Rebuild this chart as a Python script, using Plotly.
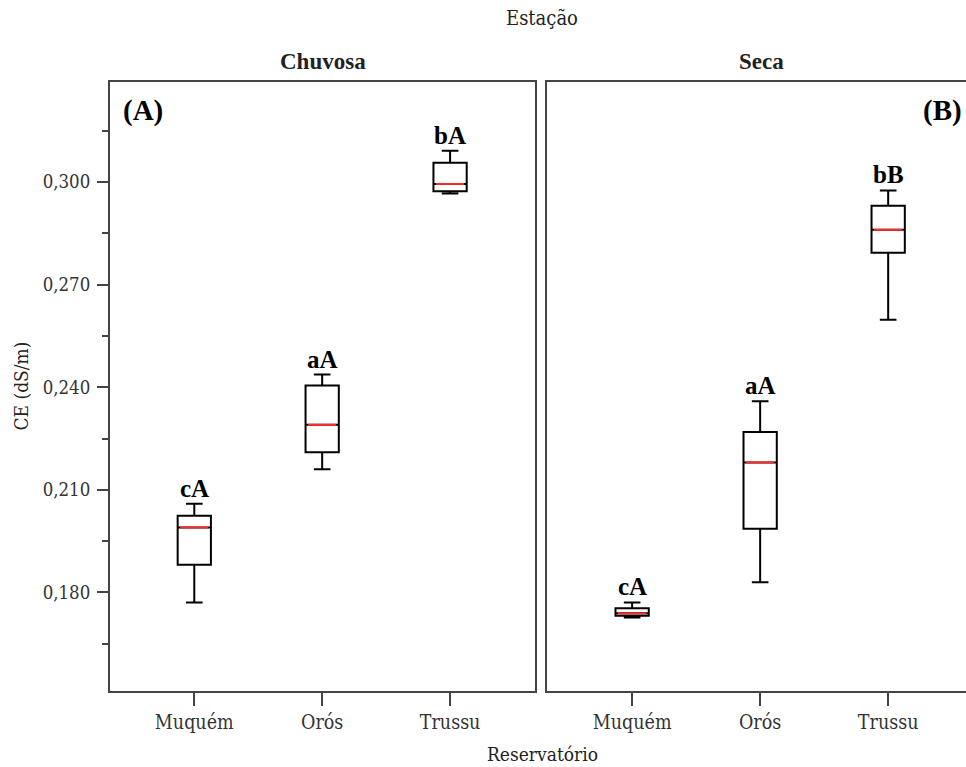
import plotly.graph_objects as go

# ---------------- data ----------------
reservatorios = ["Muquém", "Orós", "Trussu"]
x_pos = [0, 1, 2]

# Chuvosa (rainy season)
chu_low = [0.1771, 0.2160, 0.2966]
chu_q1 = [0.1881, 0.2210, 0.2973]
chu_med = [0.1990, 0.2290, 0.2994]
chu_q3 = [0.2024, 0.2405, 0.3056]
chu_up = [0.2059, 0.2437, 0.3091]
chu_letters = ["cA", "aA", "bA"]

# Seca (dry season)
sec_low = [0.1727, 0.1830, 0.2597]
sec_q1 = [0.1732, 0.1986, 0.2793]
sec_med = [0.1739, 0.2180, 0.2860]
sec_q3 = [0.1754, 0.2269, 0.2930]
sec_up = [0.1771, 0.2359, 0.2975]
sec_letters = ["cA", "aA", "bB"]

y_ticks = [0.18, 0.21, 0.24, 0.27, 0.30]
y_ticktext = ["0,180", "0,210", "0,240", "0,270", "0,300"]
y_minor = [0.165, 0.195, 0.225, 0.255, 0.285, 0.315]

BOXW = 0.26
AX = "#444444"
TXT = "#333333"
SERIF = "DejaVu Serif Condensed, DejaVu Serif, serif"
TIMES = "Liberation Serif, Times New Roman, serif"

fig = go.Figure()

def add_panel(xa, ya, low, q1, med, q3, up, letters):
    fig.add_trace(go.Box(
        x=x_pos, q1=q1, median=med, q3=q3, lowerfence=low, upperfence=up,
        width=BOXW, whiskerwidth=0.5, fillcolor="white",
        line=dict(color="black", width=2), xaxis=xa, yaxis=ya,
        showlegend=False, hoverinfo="skip"))
    for i, m in zip(x_pos, med):
        fig.add_trace(go.Scatter(
            x=[i - BOXW / 2 + 0.02, i + BOXW / 2 - 0.02], y=[m, m], mode="lines",
            line=dict(color="#ff2a2a", width=2), xaxis=xa, yaxis=ya,
            showlegend=False, hoverinfo="skip"))
    for i, u, t in zip(x_pos, up, letters):
        fig.add_annotation(x=i, y=u, xref=xa, yref=ya, text="<b>%s</b>" % t,
                           showarrow=False, yanchor="bottom", yshift=0,
                           font=dict(family=TIMES, size=25, color="black"))

add_panel("x", "y", chu_low, chu_q1, chu_med, chu_q3, chu_up, chu_letters)
add_panel("x2", "y2", sec_low, sec_q1, sec_med, sec_q3, sec_up, sec_letters)

yr = [0.1512, 0.3292]
ydom = [1 - 691 / 767, 1 - 82 / 767]

xcommon = dict(tickmode="array", tickvals=x_pos, ticktext=reservatorios,
               showline=True, linecolor=AX, linewidth=2, mirror=True,
               ticks="outside", ticklen=13, tickwidth=2, tickcolor=AX,
               showgrid=False, zeroline=False,
               tickfont=dict(family=SERIF, size=19.5, color=TXT))

fig.update_layout(
    width=966, height=767,
    margin=dict(l=0, r=0, t=0, b=0),
    paper_bgcolor="white", plot_bgcolor="white",
    boxmode="overlay",
    xaxis=dict(domain=[110 / 966, 535 / 966], range=[-0.659, 2.664], anchor="y", **xcommon),
    xaxis2=dict(domain=[547 / 966, 1.0], range=[-0.665, 2.608], anchor="y2", **xcommon),
    yaxis=dict(domain=ydom, range=yr, anchor="x",
               tickmode="array", tickvals=y_ticks, ticktext=y_ticktext,
               showline=True, linecolor=AX, linewidth=2, mirror=True,
               ticks="outside", ticklen=11, tickwidth=2, tickcolor=AX,
               minor=dict(tickvals=y_minor, ticks="outside", ticklen=6,
                          tickwidth=2, tickcolor=AX, showgrid=False),
               ticklabelstandoff=3,
               showgrid=False, zeroline=False,
               tickfont=dict(family=SERIF, size=18.5, color=TXT)),
    yaxis2=dict(domain=ydom, range=yr, anchor="x2",
                showline=True, linecolor=AX, linewidth=2, mirror=False,
                showticklabels=False, ticks="", showgrid=False, zeroline=False),
)

# titles
ann = [
    dict(text="Estação", x=542 / 966, y=1 - 18 / 767, size=20, fam=SERIF, bold=False),
    dict(text="Chuvosa", x=323 / 966, y=1 - 62 / 767, size=23, fam=TIMES, bold=True),
    dict(text="Seca", x=761.5 / 966, y=1 - 62 / 767, size=23, fam=TIMES, bold=True),
    dict(text="Reservatório", x=542 / 966, y=1 - 754 / 767, size=19, fam=SERIF, bold=False),
]
for a in ann:
    fig.add_annotation(xref="paper", yref="paper", x=a["x"], y=a["y"],
                       text=("<b>%s</b>" % a["text"]) if a["bold"] else a["text"],
                       showarrow=False, xanchor="center", yanchor="middle",
                       font=dict(family=a["fam"], size=a["size"], color="#222222"))

fig.add_annotation(xref="paper", yref="paper", x=20 / 966, y=1 - 386.5 / 767,
                   text="CE (dS/m)", textangle=-90, showarrow=False,
                   xanchor="center", yanchor="middle",
                   font=dict(family=SERIF, size=19, color="#222222"))

fig.add_annotation(xref="paper", yref="paper", x=121 / 966, y=1 - 110 / 767,
                   text="<b>(A)</b>", showarrow=False, xanchor="left", yanchor="middle",
                   font=dict(family=TIMES, size=29, color="black"))
fig.add_annotation(xref="paper", yref="paper", x=921 / 966, y=1 - 110 / 767,
                   text="<b>(B)</b>", showarrow=False, xanchor="left", yanchor="middle",
                   font=dict(family=TIMES, size=29, color="black"))

fig.write_html("out.html")
